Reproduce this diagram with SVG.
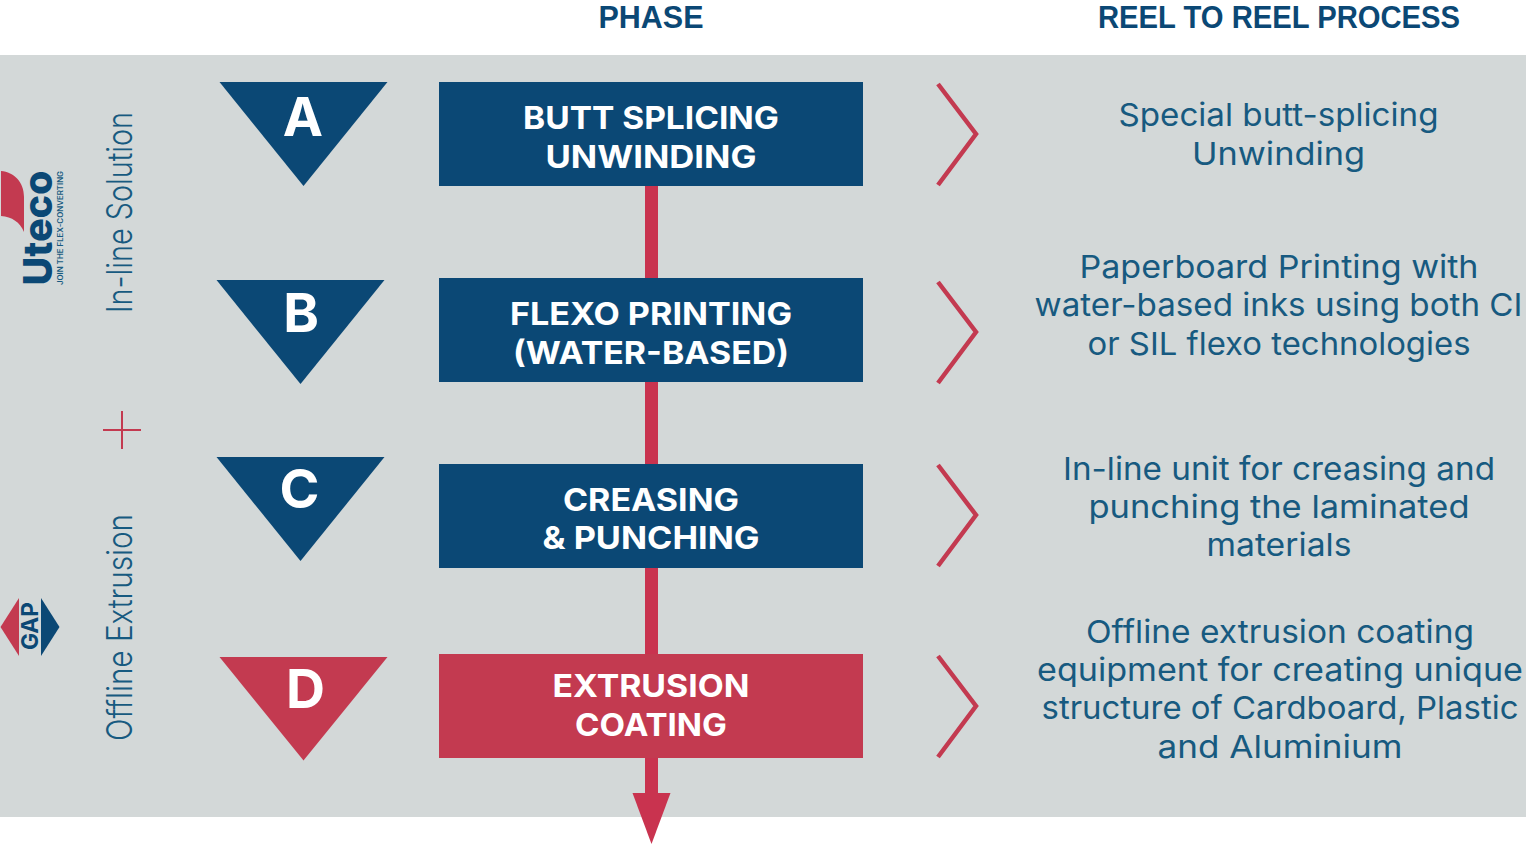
<svg xmlns="http://www.w3.org/2000/svg" width="1526" height="844" viewBox="0 0 1526 844">
<style>
text{font-family:Inter,"Open Sans","Liberation Sans",sans-serif}
.h{font-family:"Liberation Sans",Arial,sans-serif;font-size:30.500px;font-weight:700;fill:#0b4875;text-anchor:middle}
.t{font-size:31.500px;font-weight:700;fill:#fff;text-anchor:middle}
.l{font-size:54px;font-weight:700;fill:#fff;text-anchor:middle}
.r{font-size:31.500px;font-weight:400;fill:#175a80;text-anchor:middle}
.s{font-size:35px;font-weight:350;fill:#175a80;text-anchor:start}
.b{fill:#0b4875}.c{fill:#c33a50}
.chev{fill:none;stroke:#c33a50;stroke-width:4.500}
</style>
<rect width="1526" height="844" fill="#fff"/>
<rect y="55" width="1526" height="762" fill="#d3d8d8"/>
<text class="h" x="651" y="27.500" textLength="105" lengthAdjust="spacingAndGlyphs">PHASE</text>
<text class="h" x="1279" y="27.500" textLength="362" lengthAdjust="spacingAndGlyphs">REEL TO REEL PROCESS</text>
<g id="connectors">
<rect x="645" y="186" width="13" height="610" fill="#c9334f"/>
<polygon points="632.500,793 670.500,793 651.500,844" fill="#c9334f"/>
<path class="chev" d="M938 84L976 134L938 185"/>
<path class="chev" d="M938 282L976 332L938 383"/>
<path class="chev" d="M938 465L976 515L938 566"/>
<path class="chev" d="M938 656L976 706L938 757"/>
</g>
<g id="node-a">
<polygon class="b" points="219.500,82 387.500,82 303.500,186"/>
<text class="l" x="303" y="135.500">A</text>
<rect class="b" x="439" y="82" width="424" height="104"/>
<text class="t" x="651" y="128.500" textLength="256" lengthAdjust="spacingAndGlyphs">BUTT SPLICING</text>
<text class="t" x="651" y="167.500" textLength="211" lengthAdjust="spacingAndGlyphs">UNWINDING</text>
<text class="r" x="1278.500" y="125.800" textLength="320" lengthAdjust="spacingAndGlyphs">Special butt-splicing</text>
<text class="r" x="1278.500" y="164.800" textLength="173" lengthAdjust="spacingAndGlyphs">Unwinding</text>
</g>
<g id="node-b">
<polygon class="b" points="216.500,280 384.500,280 300.500,384"/>
<text class="l" x="301" y="332">B</text>
<rect class="b" x="439" y="278" width="424" height="104"/>
<text class="t" x="651" y="324.500" textLength="282" lengthAdjust="spacingAndGlyphs">FLEXO PRINTING</text>
<text class="t" x="651" y="363.500" textLength="276" lengthAdjust="spacingAndGlyphs">(WATER-BASED)</text>
<text class="r" x="1279" y="277.800" textLength="399" lengthAdjust="spacingAndGlyphs">Paperboard Printing with</text>
<text class="r" x="1278.500" y="315.800" textLength="488" lengthAdjust="spacingAndGlyphs">water-based inks using both CI</text>
<text class="r" x="1279" y="354.800" textLength="383" lengthAdjust="spacingAndGlyphs">or SIL flexo technologies</text>
</g>
<g id="node-c">
<polygon class="b" points="216.500,457 384.500,457 300.500,561"/>
<text class="l" x="299.500" y="508">C</text>
<rect class="b" x="439" y="464" width="424" height="104"/>
<text class="t" x="651" y="510.500" textLength="176" lengthAdjust="spacingAndGlyphs">CREASING</text>
<text class="t" x="651" y="548.500" textLength="217" lengthAdjust="spacingAndGlyphs">&amp; PUNCHING</text>
<text class="r" x="1279" y="479.800" textLength="432" lengthAdjust="spacingAndGlyphs">In-line unit for creasing and</text>
<text class="r" x="1279" y="517.800" textLength="381" lengthAdjust="spacingAndGlyphs">punching the laminated</text>
<text class="r" x="1279" y="555.800" textLength="145" lengthAdjust="spacingAndGlyphs">materials</text>
</g>
<g id="node-d">
<polygon class="c" points="219.500,657 387.500,657 303.500,760.500"/>
<text class="l" x="305.500" y="708">D</text>
<rect class="c" x="439" y="654" width="424" height="104"/>
<text class="t" x="651" y="696.500" textLength="197" lengthAdjust="spacingAndGlyphs">EXTRUSION</text>
<text class="t" x="651" y="735.500" textLength="152" lengthAdjust="spacingAndGlyphs">COATING</text>
<text class="r" x="1280" y="642.800" textLength="388" lengthAdjust="spacingAndGlyphs">Offline extrusion coating</text>
<text class="r" x="1280" y="680.800" textLength="486" lengthAdjust="spacingAndGlyphs">equipment for creating unique</text>
<text class="r" x="1280" y="719" textLength="477" lengthAdjust="spacingAndGlyphs">structure of Cardboard, Plastic</text>
<text class="r" x="1280" y="757.500" textLength="245" lengthAdjust="spacingAndGlyphs">and Aluminium</text>
</g>
<g id="side-labels">
<text class="s" transform="translate(132 313) rotate(-90)" textLength="201" lengthAdjust="spacingAndGlyphs">In-line Solution</text>
<text class="s" transform="translate(132 741) rotate(-90)" textLength="227" lengthAdjust="spacingAndGlyphs">Offline Extrusion</text>
<path d="M103 430H141M122 411V449" fill="none" stroke="#c33a50" stroke-width="2"/>
</g>
<g id="logo-uteco">
<path class="c" d="M1 171C14 172 24 182 24 197L24 232C20 222 12 217 1 216Z"/>
<text transform="translate(52 285.500) rotate(-90)" font-size="40" font-weight="800" fill="#0b4875" textLength="115" lengthAdjust="spacingAndGlyphs">Uteco</text>
<text transform="translate(63 285) rotate(-90)" font-size="7" font-weight="600" fill="#175a80" textLength="114" lengthAdjust="spacingAndGlyphs">JOIN THE FLEX-CONVERTING</text>
</g>
<g id="logo-gap">
<polygon class="c" points="0.500,627 19,598 19,656"/>
<polygon class="b" points="41,598 59.500,627 41,656"/>
<text transform="translate(38 650) rotate(-90)" font-size="23" font-weight="700" fill="#0b4875" textLength="48" lengthAdjust="spacingAndGlyphs">GAP</text>
</g>
</svg>
